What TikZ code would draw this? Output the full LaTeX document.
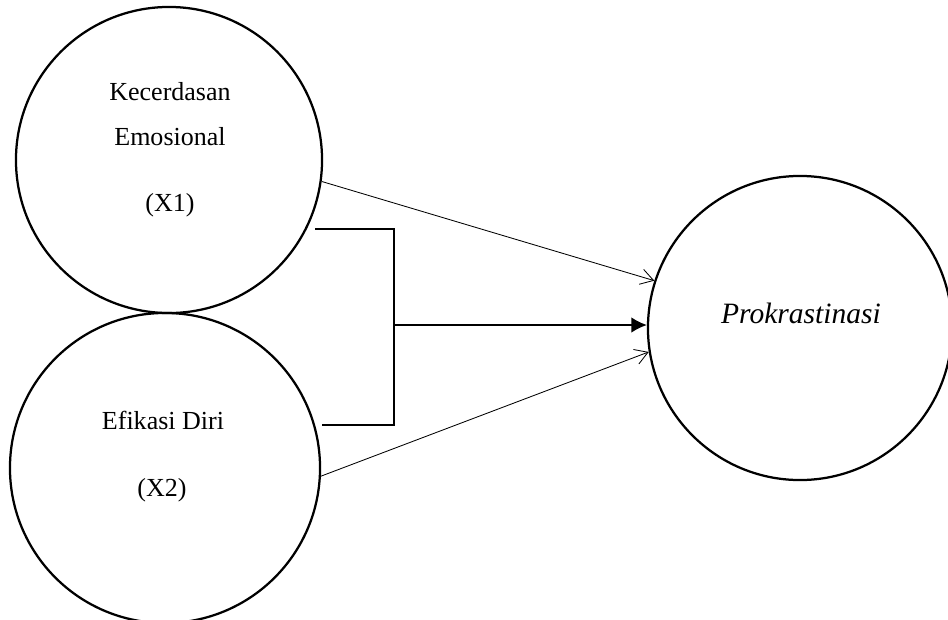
\documentclass[tikz,border=0pt]{standalone}
\usepackage{fontspec}
\setmainfont{Liberation Serif}
\usetikzlibrary{arrows.meta}
\begin{document}
\begin{tikzpicture}[x=0.025cm, y=-0.025cm,
    varcircle/.style={draw, circle, line width=1.6pt, minimum size=7.65cm, inner sep=0pt},
    varlabel/.style={font=\fontsize{18.5}{22}\selectfont, inner sep=0pt},
    thinarrow/.style={line width=0.6pt, -{Straight Barb[length=9pt, width=11pt, line width=0.6pt]}}]
    \useasboundingbox (0,0) rectangle (948,619);
    % Variabel X1
    \node[varcircle] (x1) at (169,160) {};
    \node[varlabel] (x1a) at (170,92) {Kecerdasan};
    \node[varlabel] (x1b) at (170,137) {Emosional};
    \node[varlabel] (x1c) at (170,205) {(X1)};
    % Variabel X2
    \node[varcircle, minimum size=7.75cm] (x2) at (165,468) {};
    \node[varlabel] (x2a) at (163,420) {Efikasi Diri};
    \node[varlabel] (x2b) at (162,490) {(X2)};
    % Variabel Y
    \node[varcircle, minimum size=7.6cm] (y) at (800,328) {};
    \node[font=\fontsize{21}{24}\selectfont\itshape, inner sep=0pt] (ya) at (801,313) {Prokrastinasi};
    % Panah
    \draw[thinarrow] (x1.-8) -- (y.162);
    \draw[thinarrow] (x2.-3) -- (y.-171);
    % Simultan
    \coordinate (b1) at (315,229); \coordinate (b2) at (394,229);
    \coordinate (b3) at (394,425); \coordinate (b4) at (322,425);
    \coordinate (bm) at (394,325);
    \draw[line width=0.9pt] (b1) -- (b2) -- (b3) -- (b4);
    \draw[line width=1.1pt, -{Latex[length=11pt, width=11pt]}] (bm) -- (y.west |- bm);
\end{tikzpicture}
\end{document}
